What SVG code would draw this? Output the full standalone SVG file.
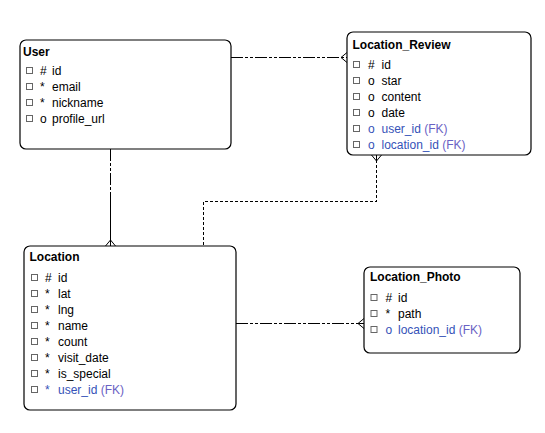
<svg xmlns="http://www.w3.org/2000/svg" width="545" height="433" viewBox="0 0 545 433">
<style>
.box{fill:#fff;stroke:#000;stroke-width:1.2}
.title{font-family:"Liberation Sans",Arial,sans-serif;font-size:12px;font-weight:bold;fill:#000}
.row{font-family:"Liberation Sans",Arial,sans-serif;font-size:12px;fill:#000}
.fk{fill:#3552b8}
.fkl{fill:#6a62c4}
.cb{fill:#fff;stroke:#666;stroke-width:1}
.dd{fill:none;stroke:#000;stroke-width:1;stroke-dasharray:12 2 3 2 3 2;shape-rendering:crispEdges}
.da{fill:none;stroke:#000;stroke-width:1;stroke-dasharray:3 2;shape-rendering:crispEdges}
.sl{fill:none;stroke:#000;stroke-width:1;shape-rendering:crispEdges}
.so{fill:none;stroke:#000;stroke-width:1}
</style>
<rect width="545" height="433" fill="#fff"/>
<g id="connectors">
  <path class="dd" d="M231 57.5 H347"/>
  <path class="so" d="M341 57.5 L347 52.5 M341 57.5 L347 62.5"/>
  <path class="dd" d="M110.5 149 V192"/>
  <path class="sl" d="M110.5 192 V246"/>
  <path class="so" d="M110.5 240 L105.5 246 M110.5 240 L115.5 246"/>
  <path class="da" d="M376.5 155 V201.5 H203.5 V246"/>
  <path class="so" d="M376.5 161 L371.5 155 M376.5 161 L381.5 155 M376.5 155 V161"/>
  <path class="dd" d="M236 323.5 H364"/>
  <path class="so" d="M358 323.5 L364 318.5 M358 323.5 L364 328.5"/>
</g>
<g id="User">
  <rect class="box" x="20" y="40" width="211" height="109" rx="6"/>
  <text class="title" x="23" y="56">User</text>
  <rect class="cb" x="26.5" y="67.5" width="6" height="6"/>
  <text class="row" x="40" y="75">#</text><text class="row" x="52" y="75">id</text>
  <rect class="cb" x="26.5" y="83.5" width="6" height="6"/>
  <text class="row" x="40" y="91">*</text><text class="row" x="52" y="91">email</text>
  <rect class="cb" x="26.5" y="99.5" width="6" height="6"/>
  <text class="row" x="40" y="107">*</text><text class="row" x="52" y="107">nickname</text>
  <rect class="cb" x="26.5" y="115.5" width="6" height="6"/>
  <text class="row" x="40" y="123">o</text><text class="row" x="52" y="123">profile_url</text>
</g>
<g id="Location_Review">
  <rect class="box" x="347" y="32" width="184" height="123" rx="6"/>
  <text class="title" x="352.5" y="49">Location_Review</text>
  <rect class="cb" x="353.5" y="61.5" width="6" height="6"/>
  <text class="row" x="368" y="68.5">#</text><text class="row" x="381.5" y="68.5">id</text>
  <rect class="cb" x="353.5" y="77.5" width="6" height="6"/>
  <text class="row" x="368" y="84.5">o</text><text class="row" x="381.5" y="84.5">star</text>
  <rect class="cb" x="353.5" y="93.5" width="6" height="6"/>
  <text class="row" x="368" y="100.5">o</text><text class="row" x="381.5" y="100.5">content</text>
  <rect class="cb" x="353.5" y="109.5" width="6" height="6"/>
  <text class="row" x="368" y="116.5">o</text><text class="row" x="381.5" y="116.5">date</text>
  <rect class="cb" x="353.5" y="125.5" width="6" height="6"/>
  <text class="row fk" x="368" y="132.5">o</text><text class="row" x="381.5" y="132.5"><tspan class="fk">user_id</tspan> <tspan class="fkl">(FK)</tspan></text>
  <rect class="cb" x="353.5" y="141.5" width="6" height="6"/>
  <text class="row fk" x="368" y="148.5">o</text><text class="row" x="381.5" y="148.5"><tspan class="fk">location_id</tspan> <tspan class="fkl">(FK)</tspan></text>
</g>
<g id="Location">
  <rect class="box" x="24" y="246" width="212" height="164" rx="6"/>
  <text class="title" x="29.5" y="261">Location</text>
  <rect class="cb" x="31.5" y="274.5" width="6" height="6"/>
  <text class="row" x="45" y="281.5">#</text><text class="row" x="58" y="281.5">id</text>
  <rect class="cb" x="31.5" y="290.5" width="6" height="6"/>
  <text class="row" x="45" y="297.5">*</text><text class="row" x="58" y="297.5">lat</text>
  <rect class="cb" x="31.5" y="306.5" width="6" height="6"/>
  <text class="row" x="45" y="313.5">*</text><text class="row" x="58" y="313.5">lng</text>
  <rect class="cb" x="31.5" y="322.5" width="6" height="6"/>
  <text class="row" x="45" y="329.5">*</text><text class="row" x="58" y="329.5">name</text>
  <rect class="cb" x="31.5" y="338.5" width="6" height="6"/>
  <text class="row" x="45" y="345.5">*</text><text class="row" x="58" y="345.5">count</text>
  <rect class="cb" x="31.5" y="354.5" width="6" height="6"/>
  <text class="row" x="45" y="361.5">*</text><text class="row" x="58" y="361.5">visit_date</text>
  <rect class="cb" x="31.5" y="370.5" width="6" height="6"/>
  <text class="row" x="45" y="377.5">*</text><text class="row" x="58" y="377.5">is_special</text>
  <rect class="cb" x="31.5" y="386.5" width="6" height="6"/>
  <text class="row fk" x="45" y="393.5">*</text><text class="row" x="58" y="393.5"><tspan class="fk">user_id</tspan> <tspan class="fkl">(FK)</tspan></text>
</g>
<g id="Location_Photo">
  <rect class="box" x="364" y="267" width="156" height="86" rx="6"/>
  <text class="title" x="370" y="281">Location_Photo</text>
  <rect class="cb" x="371" y="294.5" width="6" height="6"/>
  <text class="row" x="385.5" y="301.5">#</text><text class="row" x="398" y="301.5">id</text>
  <rect class="cb" x="371" y="310.5" width="6" height="6"/>
  <text class="row" x="385.5" y="317.5">*</text><text class="row" x="398" y="317.5">path</text>
  <rect class="cb" x="371" y="326.5" width="6" height="6"/>
  <text class="row fk" x="385.5" y="333.5">o</text><text class="row" x="398" y="333.5"><tspan class="fk">location_id</tspan> <tspan class="fkl">(FK)</tspan></text>
</g>
</svg>
